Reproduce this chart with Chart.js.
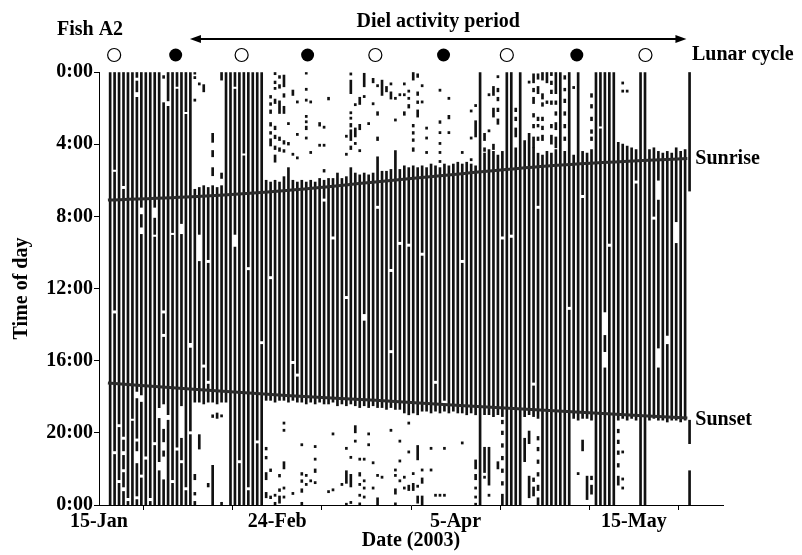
<!DOCTYPE html>
<html>
<head>
<meta charset="utf-8">
<script src="https://cdn.jsdelivr.net/npm/chart.js@4.4.0/dist/chart.umd.min.js"></script>
<style>
  html, body { margin: 0; padding: 0; background: #fff; }
</style>
</head>
<body>
<canvas id="actogram" width="802" height="555"></canvas>
<script>
// days are counted from 15-Jan-2003 (day 0)
const firstDay = 2;

// main activity bout of each day (hours), day 2 .. day 132
const onsetHour = [
  0, 0, 0, 0, 0, 0, 0, 0, 0, 0,
  0, 0, 1.7, 0, 0, 0, 0, 0, 0, 6.5,
  6.4, 6.3, 6.4, 6.3, 6.4, 6.3, 0, 0, 0, 0,
  0, 0, 0, 0, 0, 6.0, 6.1, 6.0, 6.1, 5.8,
  5.3, 6.0, 6.1, 6.0, 6.1, 6.0, 6.1, 5.9, 6.0, 5.9,
  5.9, 5.6, 5.9, 5.8, 5.3, 5.6, 5.7, 5.6, 5.7, 5.6,
  4.7, 5.5, 5.5, 5.4, 4.35, 5.4, 5.2, 5.3, 5.2, 5.3,
  5.2, 5.3, 5.1, 5.2, 5.3, 5.1, 5.2, 5.1, 5.0, 5.1,
  5.0, 5.1, 5.2, 0, 4.5, 4.3, 4.4, 4.6, 4.4, 0,
  0, 4.2, 0, 3.8, 3.4, 4.2, 4.5, 4.6, 4.4, 4.5,
  4.3, 0, 4.4, 0, 4.6, 0, 4.4, 4.5, 4.3, 0,
  0, 0, 0, 0, 3.9, 4.0, 4.1, 4.2, 4.3, 0,
  0, 4.3, 4.2, 4.4, 4.5, 4.4, 4.5, 4.2, 4.4, 4.3,
  0
];
const offsetHour = [
  24, 24, 24, 24, 24, 24, 24, 24, 24, 24,
  24, 24, 18.4, 24, 24, 24, 24, 24, 24, 18.3,
  18.3, 18.4, 18.3, 18.3, 18.4, 18.3, 18.3, 24, 24, 24,
  24, 24, 24, 24, 24, 18.2, 18.2, 18.3, 18.2, 18.2,
  18.3, 18.2, 18.3, 18.3, 18.4, 18.3, 18.4, 18.3, 18.4, 18.4,
  18.3, 18.5, 18.4, 18.5, 18.4, 18.5, 18.6, 18.5, 18.6, 18.5,
  18.6, 18.6, 18.7, 18.6, 18.7, 18.7, 18.9, 19.0, 18.9, 19.0,
  18.8, 18.8, 18.9, 18.8, 18.9, 18.8, 18.9, 18.8, 18.9, 18.9,
  19.0, 18.9, 19.0, 24, 19.0, 19.0, 19.1, 19.0, 19.1, 24,
  24, 24, 24, 19.1, 19.0, 19.1, 19.2, 24, 24, 24,
  24, 24, 24, 24, 19.2, 19.3, 19.2, 19.2, 19.3, 24,
  24, 24, 24, 24, 19.3, 19.2, 19.3, 19.2, 19.3, 24,
  24, 19.3, 19.2, 19.3, 19.3, 19.4, 19.3, 19.3, 19.4, 19.3,
  6.6
];

// short pauses inside the main bouts: [day, from, to]
const restGaps = [
  [3, 5.4, 5.55], [5, 6.3, 6.5], [9, 7.5, 7.9], [9, 8.6, 9.0], [12, 7.5, 8.1], [12, 9.0, 9.15],
  [15, 1.6, 1.9], [16, 8.9, 9.05], [18, 8.4, 9.0], [22, 9.0, 10.5], [24, 10.4, 10.6],
  [30, 9.0, 9.7], [30, 0.8, 0.95], [33, 10.8, 11.0], [38, 11.3, 11.5],
  [8, 0.3, 0.5], [8, 1.1, 1.4], [17, 0.8, 0.95], [19, 2.2, 2.35], [32, 4.5, 4.65],
  [3, 13.2, 13.4], [8, 20.3, 20.5], [9, 17.9, 18.3], [14, 14.5, 14.7], [14, 13.2, 13.4],
  [20, 15.0, 15.3], [23, 16.2, 16.4], [24, 17.1, 17.3], [36, 14.9, 15.1],
  [50, 7.0, 7.2], [52, 9.1, 9.3], [55, 12.4, 12.6], [62, 7.4, 7.6], [65, 10.9, 11.1],
  [67, 9.4, 9.6], [69, 9.5, 9.7], [72, 10.0, 10.2], [81, 10.4, 10.6],
  [43, 16.0, 16.2], [44, 16.7, 16.9], [59, 13.4, 13.8], [65, 15.4, 15.6], [75, 17.1, 17.3], [77, 18.2, 18.4],
  [90, 9.1, 9.3], [92, 9.0, 9.2], [98, 7.4, 7.6], [108, 6.8, 7.0], [112, 3.0, 3.15], [114, 9.5, 9.7],
  [120, 6.0, 6.2], [124, 8.0, 8.2], [129, 8.3, 9.5], [125, 6.0, 7.1],
  [97, 17.2, 17.4], [105, 13.0, 13.2], [113, 13.3, 14.6], [113, 15.5, 16.4], [125, 15.3, 16.4], [127, 14.6, 15.1],
  // night pauses in the first weeks
  [3, 21.0, 21.2], [4, 19.5, 19.7], [4, 22.6, 22.8], [5, 20.2, 20.4], [5, 21.0, 21.25], [5, 22.0, 22.2],
  [5, 23.0, 23.25], [6, 23.6, 23.8], [7, 19.2, 19.35], [8, 17.7, 18.1], [8, 21.0, 21.7], [8, 23.5, 23.7],
  [9, 22.3, 22.5], [10, 21.3, 21.5], [11, 23.6, 23.8], [12, 20.5, 20.7], [13, 18.6, 19.2], [13, 21.6, 22.1],
  [15, 19.0, 19.3], [16, 22.6, 22.8], [17, 20.8, 21.0], [18, 18.5, 20.3], [18, 21.5, 21.7], [19, 23.0, 23.2],
  [20, 19.9, 20.1], [31, 21.5, 21.7], [33, 23.0, 23.2], [35, 20.4, 20.6]
];

// short detections outside the main bout: [day, from, to]
const nightBouts = [
  // before dawn
  [14, 0.2, 0.35], [21, 0, 0.12], [21, 0.25, 0.37], [21, 1.5, 1.62], [22, 0.6, 0.72], [23, 0.7, 1.1],
  [25, 3.4, 3.9], [25, 4.35, 4.7], [25, 5.3, 5.75], [27, 0, 0.45], [27, 5.6, 5.9],
  [38, 1.3, 1.45], [38, 1.7, 1.85], [38, 2.1, 2.3], [38, 2.8, 3.0], [38, 3.3, 3.45], [38, 3.7, 4.1],
  [39, 0, 0.15], [39, 0.5, 0.65], [39, 0.85, 0.97], [39, 1.5, 1.75], [39, 3.0, 3.2], [39, 3.5, 3.7], [39, 4.1, 4.3], [39, 4.6, 5.0],
  [40, 0.2, 0.35], [40, 0.7, 0.9], [40, 1.6, 2.3], [40, 3.6, 3.8], [40, 4.2, 4.4],
  [41, 0.17, 0.82], [41, 1.2, 1.4], [41, 1.9, 2.3], [41, 3.8, 4.0], [41, 4.3, 4.45],
  [42, 2.8, 2.92], [42, 3.9, 4.05], [43, 1.0, 1.3], [43, 4.5, 4.62],
  [44, 1.6, 1.72], [44, 3.4, 3.52], [44, 4.7, 4.82],
  [46, 0, 0.12], [46, 0.9, 1.02], [46, 1.5, 1.62], [46, 2.4, 2.52], [46, 2.7, 2.82], [46, 3.0, 3.2], [46, 3.6, 3.72],
  [47, 1.6, 1.72], [47, 4.4, 4.52], [49, 2.8, 3.0], [49, 4.0, 4.12],
  [50, 3.0, 3.12], [50, 4.0, 4.12], [50, 5.4, 5.55], [51, 1.4, 1.55],
  [55, 3.5, 3.62], [55, 4.5, 4.62],
  [56, 0.05, 0.17], [56, 0.45, 1.2], [56, 2.2, 2.32], [56, 2.5, 2.62], [56, 2.85, 3.05], [56, 3.2, 3.8], [56, 4.1, 4.3],
  [57, 1.75, 1.87], [57, 3.1, 3.6], [57, 3.9, 4.02],
  [58, 1.4, 1.8], [58, 2.9, 3.2], [58, 4.3, 4.42],
  [59, 0.07, 0.82], [59, 1.3, 1.42], [60, 2.8, 2.92],
  [61, 0.35, 0.6], [61, 1.7, 1.82],
  [62, 0.7, 0.82], [62, 2.2, 2.4], [62, 3.6, 3.8],
  [63, 0.45, 1.3], [64, 0.8, 1.1], [65, 0.6, 0.72], [65, 1.1, 1.5],
  [66, 1.4, 1.52], [66, 2.6, 2.72], [67, 1.2, 1.32],
  [68, 0.6, 0.72], [68, 1.2, 1.32], [68, 2.2, 2.4],
  [69, 1.0, 1.12], [69, 1.4, 1.52], [69, 1.8, 2.0],
  [70, 0, 0.45], [70, 2.9, 3.05], [70, 3.3, 3.45], [70, 3.7, 3.85], [70, 4.2, 4.4],
  [71, 0.1, 0.3], [71, 1.1, 1.3], [71, 1.6, 1.75], [71, 2.1, 2.5],
  [72, 0.7, 0.82], [72, 1.6, 1.72],
  [73, 3.05, 3.17], [73, 3.6, 3.72], [73, 4.4, 4.52],
  [76, 0.95, 1.07], [76, 2.7, 2.85], [76, 3.3, 3.42], [76, 3.9, 4.02], [76, 4.4, 4.52], [76, 4.9, 5.02],
  [78, 1.4, 1.52], [78, 2.4, 2.6], [78, 3.3, 3.42], [81, 4.4, 4.52],
  [83, 2.1, 2.22], [83, 3.6, 3.72], [83, 4.8, 4.92], [84, 1.8, 1.92], [84, 2.7, 3.6],
  [86, 3.4, 3.8], [86, 4.2, 4.4], [87, 1.2, 1.32], [87, 3.2, 3.32],
  [88, 0.8, 1.3], [88, 2.0, 2.5], [88, 4.0, 4.3],
  [89, 0.2, 0.32], [89, 0.9, 1.1], [89, 1.4, 1.6], [89, 2.0, 2.2], [89, 2.6, 2.9],
  [93, 2.0, 2.2], [93, 2.5, 2.7], [93, 3.1, 3.6], [96, 0.5, 0.62],
  [97, 0.1, 0.6], [97, 0.9, 1.1], [97, 1.4, 1.75], [97, 2.3, 2.5], [97, 2.9, 3.1], [97, 3.6, 4.2],
  [98, 0.1, 0.4], [98, 0.8, 1.2], [98, 2.5, 2.7], [98, 2.9, 3.05], [98, 3.6, 3.8],
  [99, 0, 0.45], [99, 1.2, 1.5], [99, 1.7, 1.9], [99, 2.5, 2.7], [99, 3.0, 3.2], [99, 3.5, 3.8],
  [100, 0, 0.6], [100, 1.6, 1.75],
  [101, 0, 0.2], [101, 0.5, 0.7], [101, 1.0, 1.2], [101, 1.6, 1.8], [101, 2.9, 3.1], [101, 3.5, 4.0],
  [102, 0, 1.2], [102, 1.6, 1.8], [102, 2.2, 2.4], [102, 2.8, 3.2], [102, 3.6, 4.2],
  [104, 0.2, 0.4], [104, 0.9, 1.05], [104, 1.5, 1.7], [104, 2.2, 2.4], [104, 2.9, 3.1], [104, 3.6, 3.8],
  [106, 0.8, 0.92],
  [110, 1.2, 1.4], [110, 1.8, 2.0], [110, 2.5, 2.7], [110, 3.2, 3.4], [110, 3.6, 3.8],
  [117, 0.55, 0.67], [117, 1.0, 1.12], [118, 1.0, 1.12],
  // after dusk
  [14, 19.8, 20.5], [14, 21.0, 21.3], [14, 22.6, 24],
  [21, 22.3, 22.6], [21, 23.3, 23.45], [21, 23.8, 24],
  [22, 20.1, 20.9], [24, 22.8, 23.0], [25, 19.0, 19.15], [25, 21.8, 24], [26, 18.9, 19.2], [27, 19.0, 19.12], [27, 23.85, 24],
  [37, 20.8, 20.95], [37, 21.3, 21.45], [37, 22.2, 22.6], [37, 23.3, 23.6],
  [38, 22.0, 22.15], [38, 23.5, 23.65], [39, 23.4, 23.52], [39, 23.85, 24],
  [40, 22.3, 22.45], [40, 23.1, 23.25], [40, 23.5, 23.9],
  [41, 19.4, 19.52], [41, 19.8, 19.92], [41, 21.6, 22.0], [41, 23.0, 23.12], [41, 23.5, 23.62],
  [43, 23.3, 23.42],
  [45, 20.6, 20.72], [45, 22.2, 22.35], [45, 22.6, 22.75], [45, 23.1, 23.3], [45, 23.85, 24],
  [46, 22.3, 22.42], [46, 22.8, 22.92], [47, 22.6, 22.72],
  [48, 20.7, 20.82], [48, 21.4, 21.52], [48, 22.0, 22.2], [48, 22.7, 22.82],
  [51, 23.2, 23.32], [52, 20.0, 20.12], [52, 23.1, 23.22],
  [54, 22.8, 22.92], [55, 20.8, 20.92], [55, 22.1, 22.8], [55, 23.9, 24],
  [56, 21.3, 21.42], [56, 22.3, 23.0], [56, 23.8, 23.92],
  [57, 19.6, 20.0], [57, 20.4, 20.52],
  [58, 21.4, 21.52], [58, 22.2, 22.4], [58, 22.8, 22.92], [58, 23.4, 23.52], [58, 23.88, 24],
  [59, 21.4, 21.52], [59, 22.6, 22.72], [59, 23.0, 23.12], [59, 23.5, 23.62],
  [60, 20.0, 20.12], [60, 20.6, 20.72], [61, 21.6, 21.72], [61, 23.0, 23.12],
  [62, 22.3, 22.42], [62, 23.6, 24], [63, 22.4, 22.52], [65, 19.8, 19.92],
  [66, 22.0, 22.12], [66, 22.3, 22.42], [66, 23.1, 23.4], [66, 23.88, 24],
  [67, 20.4, 20.52], [67, 21.5, 21.62], [67, 22.6, 22.72],
  [68, 22.4, 22.52], [68, 23.0, 23.12],
  [69, 19.4, 19.52], [69, 21.0, 21.12], [69, 22.9, 23.2],
  [70, 22.2, 22.32], [70, 22.8, 23.2],
  [71, 20.7, 21.5], [71, 22.9, 23.02], [71, 23.5, 23.9],
  [72, 22.0, 22.12], [72, 22.5, 22.8], [72, 23.5, 24],
  [74, 20.8, 20.92], [74, 22.0, 22.12], [75, 23.4, 23.52], [76, 23.4, 23.52],
  [77, 20.8, 20.92], [77, 23.4, 23.52], [81, 20.5, 20.62],
  [84, 21.5, 22.0], [84, 22.3, 22.6], [84, 23.0, 23.12], [84, 23.5, 23.62], [84, 23.9, 24],
  [86, 20.8, 22.2], [86, 22.4, 22.52], [87, 20.8, 22.9], [87, 23.4, 23.52], [89, 21.6, 22.0],
  [90, 19.3, 19.5], [90, 19.9, 20.1], [90, 20.6, 20.8], [90, 21.3, 21.5], [90, 22.0, 22.2], [90, 22.7, 22.9], [90, 23.4, 24],
  [95, 20.3, 21.6], [96, 19.9, 20.6], [96, 22.4, 23.6], [97, 22.5, 22.7], [97, 23.0, 23.5],
  [98, 20.2, 20.4], [98, 20.8, 21.0], [98, 21.5, 21.7], [98, 22.2, 22.4], [98, 22.9, 23.2], [98, 23.6, 24],
  [107, 22.2, 22.32], [108, 20.4, 21.0], [109, 22.4, 23.7], [110, 22.4, 22.6], [110, 22.9, 23.4],
  [116, 19.8, 20.0], [116, 20.4, 20.6], [116, 21.0, 21.2], [116, 21.7, 21.9], [116, 22.4, 22.9],
  [117, 21.0, 21.12], [117, 22.5, 22.62], [117, 23.0, 23.12],
  [132, 19.3, 20.6], [132, 22.1, 24]
];

// sunrise / sunset (hours)
const sunDays = [2, 22, 42, 62, 82, 102, 122, 132];
const sunriseHour = [7.10, 6.90, 6.57, 6.10, 5.62, 5.18, 4.90, 4.80];
const sunsetHour = [17.24, 17.60, 17.93, 18.20, 18.50, 18.78, 19.05, 19.18];

// lunar cycle: true = new moon (filled), false = full moon (open)
const moonDays = [3.4, 17.2, 32, 46.8, 62, 77.3, 91.5, 107.2, 122.6];
const moonIsNew = [false, true, false, true, false, true, false, true, false];
const dielPeriod = [20.4, 131.8];

const dateTickDays = [0, 40, 80, 120];
const dateTickLabels = ['15-Jan', '24-Feb', '5-Apr', '15-May'];

const serif = '"Liberation Serif", "Times New Roman", serif';
const barColor = '#111';

// cut the pauses out of each day's main bout
function dayBouts() {
  const out = [];
  onsetHour.forEach((on, i) => {
    const day = firstDay + i;
    let parts = [[on, offsetHour[i]]];
    restGaps.filter(g => g[0] === day).forEach(g => {
      parts = parts.flatMap(([a, b]) => {
        if (g[2] <= a || g[1] >= b) return [[a, b]];
        const keep = [];
        if (g[1] > a) keep.push([a, g[1]]);
        if (g[2] < b) keep.push([g[2], b]);
        return keep;
      });
    });
    parts.forEach(p => out.push({ x: day + 0.5, y: p }));
  });
  return out;
}

const dayBars = dayBouts();
const nightBars = nightBouts.map(b => ({ x: b[0] + 0.5, y: [b[1], b[2]] }));

const overlay = {
  id: 'overlay',
  afterDraw(chart) {
    const ctx = chart.ctx;
    const xs = chart.scales.x;
    const ys = chart.scales.y;
    ctx.save();
    ctx.fillStyle = '#000';
    ctx.strokeStyle = '#000';
    ctx.font = 'bold 20px ' + serif;
    ctx.textBaseline = 'middle';

    ctx.textAlign = 'left';
    ctx.fillText('Fish A2', 57, 30);

    // diel activity arrow
    const ax0 = xs.getPixelForValue(dielPeriod[0]);
    const ax1 = xs.getPixelForValue(dielPeriod[1]);
    const ay = 39;
    ctx.lineWidth = 2;
    ctx.beginPath();
    ctx.moveTo(ax0 + 6, ay);
    ctx.lineTo(ax1 - 6, ay);
    ctx.stroke();
    ctx.beginPath();
    ctx.moveTo(ax0, ay); ctx.lineTo(ax0 + 11, ay - 4); ctx.lineTo(ax0 + 11, ay + 4); ctx.closePath();
    ctx.fill();
    ctx.beginPath();
    ctx.moveTo(ax1, ay); ctx.lineTo(ax1 - 11, ay - 4); ctx.lineTo(ax1 - 11, ay + 4); ctx.closePath();
    ctx.fill();
    ctx.textAlign = 'center';
    ctx.fillText('Diel activity period', (ax0 + ax1) / 2, 22);

    // moons
    ctx.lineWidth = 1.2;
    moonDays.forEach((d, i) => {
      ctx.beginPath();
      ctx.arc(xs.getPixelForValue(d), 55, 6.5, 0, Math.PI * 2);
      if (moonIsNew[i]) ctx.fill(); else ctx.stroke();
    });
    ctx.textAlign = 'left';
    ctx.fillText('Lunar cycle', 692, 55);

    // sun line labels
    const last = sunDays.length - 1;
    const lx = xs.getPixelForValue(sunDays[last]) + 8;
    ctx.fillText('Sunrise', lx, ys.getPixelForValue(sunriseHour[last]));
    ctx.fillText('Sunset', lx, ys.getPixelForValue(sunsetHour[last]) + 2);
    ctx.restore();
  }
};

new Chart(document.getElementById('actogram'), {
  type: 'bar',
  data: {
    datasets: [
      {
        type: 'line',
        label: 'Sunrise',
        data: sunDays.map((d, i) => ({ x: d, y: sunriseHour[i] })),
        borderColor: '#2b2b2b',
        borderWidth: 3,
        pointRadius: 0,
        cubicInterpolationMode: 'monotone',
        order: 0
      },
      {
        type: 'line',
        label: 'Sunset',
        data: sunDays.map((d, i) => ({ x: d, y: sunsetHour[i] })),
        borderColor: '#2b2b2b',
        borderWidth: 3,
        pointRadius: 0,
        cubicInterpolationMode: 'monotone',
        order: 0
      },
      {
        label: 'Activity',
        data: dayBars,
        backgroundColor: barColor,
        borderWidth: 0,
        barThickness: 2,
        grouped: false,
        order: 1
      },
      {
        label: 'Night detections',
        data: nightBars,
        backgroundColor: barColor,
        borderWidth: 0,
        barThickness: 2,
        grouped: false,
        order: 1
      }
    ]
  },
  options: {
    responsive: false,
    devicePixelRatio: 1,
    animation: false,
    events: [],
    layout: { padding: { top: 72, right: 79, left: 0, bottom: 0 } },
    plugins: {
      legend: { display: false },
      tooltip: { enabled: false }
    },
    scales: {
      x: {
        type: 'linear',
        min: 0,
        max: 140,
        offset: false,
        afterFit: s => { s.height = 50; },
        border: { display: true, color: '#000', width: 1 },
        grid: { drawOnChartArea: false, drawTicks: true, tickLength: 5, color: '#000' },
        ticks: {
          stepSize: 20,
          autoSkip: false,
          maxRotation: 0,
          padding: 0,
          color: '#000',
          font: { family: serif, size: 20, weight: 'bold' },
          callback: v => {
            const k = dateTickDays.indexOf(v);
            return k >= 0 ? dateTickLabels[k] : '';
          }
        },
        title: {
          display: true,
          text: 'Date (2003)',
          color: '#000',
          font: { family: serif, size: 20, weight: 'bold' },
          padding: { top: 0, bottom: 2 }
        }
      },
      y: {
        min: 0,
        max: 24,
        reverse: true,
        afterFit: s => { s.width = 99; },
        border: { display: true, color: '#000', width: 1 },
        grid: { drawOnChartArea: false, drawTicks: true, tickLength: 5, color: '#000' },
        ticks: {
          stepSize: 4,
          padding: 1,
          color: '#000',
          font: { family: serif, size: 20, weight: 'bold' },
          callback: v => (v % 24) + ':00'
        },
        title: {
          display: true,
          text: 'Time of day',
          color: '#000',
          font: { family: serif, size: 20, weight: 'bold' },
          padding: { top: 10, bottom: 0 }
        }
      }
    }
  },
  plugins: [overlay]
});
</script>
</body>
</html>
